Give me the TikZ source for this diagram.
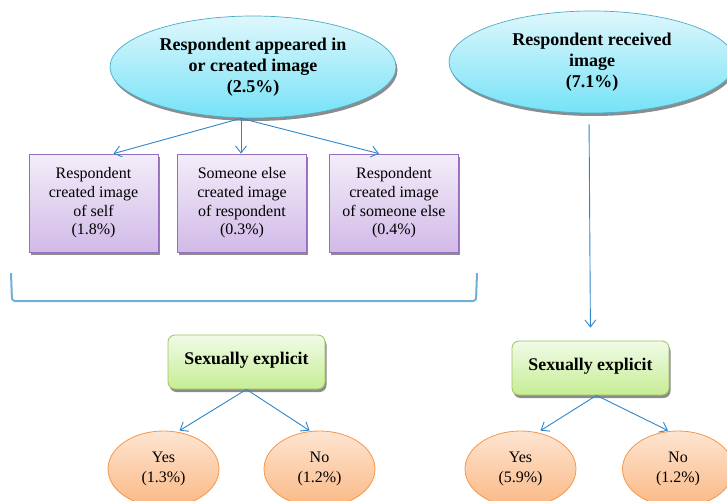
\documentclass[tikz,border=0pt]{standalone}
\usepackage{fontspec}
\setmainfont{Liberation Serif}
\usetikzlibrary{shapes.geometric, shadows, arrows.meta}

\definecolor{arrowblue}{RGB}{46,134,200}
\definecolor{bracketblue}{RGB}{110,175,220}
\definecolor{cyanline}{RGB}{75,172,198}
\definecolor{cyantop}{RGB}{222,247,252}
\definecolor{cyanbot}{RGB}{118,226,247}
\definecolor{purpleline}{RGB}{150,110,190}
\definecolor{purpletop}{RGB}{243,237,249}
\definecolor{purplebot}{RGB}{210,186,232}
\definecolor{greenline}{RGB}{155,195,95}
\definecolor{greentop}{RGB}{241,251,232}
\definecolor{greenbot}{RGB}{198,237,148}
\definecolor{orangeline}{RGB}{247,150,70}
\definecolor{orangetop}{RGB}{253,229,210}
\definecolor{orangebot}{RGB}{251,184,132}

\tikzset{
  shade/.style = {drop shadow={shadow xshift=1.5pt, shadow yshift=-3pt, fill=black!45, opacity=1}},
  topic/.style = {ellipse, draw=cyanline, line width=0.7pt, top color=cyantop, bottom color=cyanbot,
                  minimum width=286pt, minimum height=102pt, inner sep=0pt, align=center,
                  font=\fontsize{18}{20.8}\selectfont\bfseries, shade},
  kind/.style = {rectangle, draw=purpleline, line width=0.8pt, top color=purpletop, bottom color=purplebot,
                 minimum width=129pt, minimum height=98pt, inner sep=0pt, align=center,
                 font=\fontsize{16}{18.7}\selectfont, shade},
  question/.style = {rectangle, rounded corners=7pt, draw=greenline, line width=0.8pt, top color=greentop,
                     bottom color=greenbot, minimum width=157pt, minimum height=54pt, inner sep=0pt,
                     font=\fontsize{17.8}{20}\selectfont\bfseries, shade},
  answer/.style = {ellipse, draw=orangeline, line width=0.8pt, top color=orangetop, bottom color=orangebot,
                   minimum width=111pt, minimum height=76pt, inner sep=0pt, align=center,
                   font=\fontsize{16}{20}\selectfont},
  link/.style = {draw=arrowblue, line width=0.9pt, -{Straight Barb[length=7pt, width=11pt]}}
}

\begin{document}
\begin{tikzpicture}[x=1pt, y=-1pt]
  \useasboundingbox (0, 0) rectangle (727, 500);
  \clip (0, 0) rectangle (727, 500);

  \node[topic] at (253, 67) (Made) {Respondent appeared in\\or created image\\(2.5\%)};
  \node[topic] at (592, 62) (Got) {Respondent received\\image\\(7.1\%)};

  \node[kind] at (93.5, 203) (Self) {Respondent\\created image\\of self\\(1.8\%)};
  \node[kind] at (242, 203) (Other) {Someone else\\created image\\of respondent\\(0.3\%)};
  \node[kind] at (394, 203) (Else) {Respondent\\created image\\of someone else\\(0.4\%)};

  \node[question] at (246.5, 362) (SexA) {\raisebox{7pt}{Sexually explicit}};
  \node[question] at (590.5, 368) (SexB) {\raisebox{7pt}{Sexually explicit}};

  \node[answer] at (163.5, 469) (YesA) {Yes\\(1.3\%)};
  \node[answer] at (319.5, 469) (NoA) {No\\(1.2\%)};
  \node[answer] at (520.5, 469) (YesB) {Yes\\(5.9\%)};
  \node[answer] at (678, 469) (NoB) {No\\(1.2\%)};

  \draw [link] ([xshift=-12pt]Made.south) -- ([xshift=20pt]Self.north);
  \draw [link] ([xshift=-12pt]Made.south) -- ([xshift=-1pt]Other.north);
  \draw [link] ([xshift=-12pt]Made.south) -- ([xshift=-15pt]Else.north);

  % bracket under the three kinds
  \draw [bracketblue, line width=2pt, rounded corners=3pt] (11, 273) -- (12, 301) -- (476, 301) -- (477, 273);

  \draw [link, shorten <=11pt, shorten >=13pt] ([xshift=-3pt]Got.south) -- (SexB.north);

  \draw [link] (SexA.south) -- ([xshift=16pt]YesA.north);
  \draw [link] (SexA.south) -- ([xshift=-10pt]NoA.north);
  \draw [link] ([xshift=6pt]SexB.south) -- ([xshift=20pt]YesB.north);
  \draw [link] ([xshift=6pt]SexB.south) -- ([xshift=-10pt]NoB.north);
\end{tikzpicture}
\end{document}
